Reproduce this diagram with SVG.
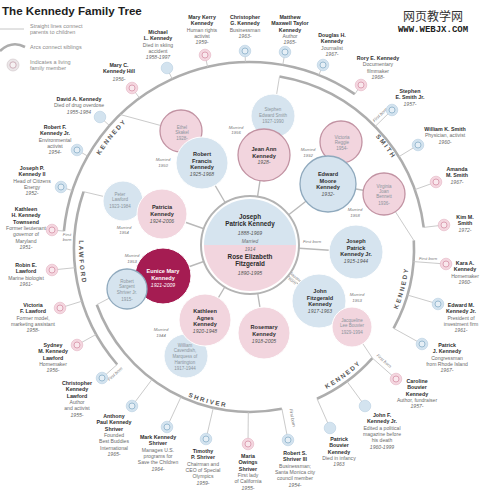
<svg xmlns="http://www.w3.org/2000/svg" width="480" height="496" viewBox="0 0 480 496">
<defs>
<style>
text{font-family:"Liberation Sans",Arial,sans-serif;text-anchor:middle}
.ttl{font-size:11.6px;font-weight:bold;fill:#1e1e1e;text-anchor:start}
.lg{font-size:5.5px;fill:#8a8a8a;text-anchor:start}
.n{font-size:5.3px;font-weight:bold;fill:#2e2e2e}
.d{font-size:5.1px;fill:#6b6b6b}
.y{font-size:5.1px;font-style:italic;fill:#6b6b6b}
.c{font-size:5.6px;font-weight:bold;fill:#2e2e2e}
.cy{font-size:5.1px;font-style:italic;fill:#555}
.m{font-size:6.3px;font-weight:bold;fill:#2a2a2a}
.mr2{font-size:4.8px;font-style:italic;fill:#6f6f6f}
.s{font-size:4.5px;fill:#8a949c}
.mr{font-size:4.3px;font-style:italic;fill:#7a7a7a}
.fb{font-size:4.3px;font-style:italic;fill:#7a7a7a;paint-order:stroke;stroke:#fff;stroke-width:1.2px}
.lbl{font-size:6.3px;font-weight:bold;letter-spacing:1.8px;fill:#555}
.arc{fill:none;stroke:#adadad;stroke-width:2.6}
.ln{stroke:#c4c4c4;stroke-width:0.9;fill:none}
.cl{stroke:#b9b9b9;stroke-width:1.4}
.cb{fill:#d6e4ef;stroke:#fff;stroke-width:1}
.cp{fill:#f2d5de;stroke:#fff;stroke-width:1}
.lb{stroke:#8fa9bd;stroke-width:1.3}
.lp{stroke:#c293a3;stroke-width:1.3}
.wm1{font-family:"Noto Sans CJK SC","Liberation Sans",sans-serif;font-size:12px;fill:#333}
.wm2{font-family:"Liberation Mono",monospace;font-size:9px;font-weight:bold;fill:#222}
</style>
<g id="ib"><circle r="5.8" fill="#d3e3ef" stroke="#b7cee0" stroke-width="0.6"/><circle r="3" fill="#e6eff6" stroke="#93b5cd" stroke-width="0.9"/></g>
<g id="ip"><circle r="5.8" fill="#f4d6df" stroke="#e4b3c2" stroke-width="0.6"/><circle r="3" fill="#f9e8ed" stroke="#d99aae" stroke-width="0.9"/></g>
<g id="ibd"><circle r="5.8" fill="#d3e3ef" stroke="#b7cee0" stroke-width="0.6"/></g>
<g id="ig"><circle r="6" fill="#ebe6e8" stroke="#cfc4c8" stroke-width="0.6"/><circle r="3.2" fill="#f6f2f3" stroke="#c9a9b4" stroke-width="0.9"/></g>
<path id="tp-rfk" d="M79.0 203.2A177 177 0 0 1 169.6 91.3"/>
<path id="tp-smith" d="M334.3 103.1A168.5 168.5 0 0 1 413.5 208.2"/>
<path id="tp-ted" d="M380.7 340.5A159.5 159.5 0 0 0 408.6 232.3"/>
<path id="tp-jfk" d="M291.3 403.1A159.5 159.5 0 0 0 385.3 333.5"/>
<path id="tp-shriver" d="M147.2 371.6A160 160 0 0 0 275.0 407.0"/>
<path id="tp-lawford" d="M89.3 190.5A171 171 0 0 0 100.4 331.9"/>
</defs>
<rect width="480" height="496" fill="#fff"/>

<g id="title"><text class="ttl" x="2" y="14.5">The Kennedy Family Tree</text></g>
<g id="watermark"><text class="wm1" x="433" y="21">网页教学网</text><text class="wm2" x="433" y="32">WWW.WEBJX.COM</text></g>

<g id="legend">
<line x1="0" y1="29" x2="24" y2="29" stroke="#c6c6c6" stroke-width="1"/>
<text class="lg" x="30" y="27.8">Straight lines connect</text>
<text class="lg" x="30" y="33.8">parents to children</text>
<path d="M0 51Q12 40 25 47" class="arc"/>
<text class="lg" x="30" y="48.8">Arcs connect siblings</text>
<use href="#ig" x="13" y="65"/>
<text class="lg" x="30" y="63.8">Indicates a living</text>
<text class="lg" x="30" y="70">family member</text>
</g>

<g id="connectors">
<line class="cl" x1="250" y1="245" x2="202" y2="163"/>
<line class="cl" x1="250" y1="245" x2="264" y2="155"/>
<line class="cl" x1="250" y1="245" x2="328" y2="184"/>
<line class="cl" x1="250" y1="245" x2="356" y2="252"/>
<line class="cl" x1="250" y1="245" x2="319" y2="301"/>
<line class="cl" x1="250" y1="245" x2="264" y2="333"/>
<line class="cl" x1="250" y1="245" x2="205" y2="320"/>
<line class="cl" x1="250" y1="245" x2="163" y2="276"/>
<line class="cl" x1="250" y1="245" x2="162" y2="214"/>
<line class="cl" x1="328" y1="184" x2="384" y2="194"/>
<path class="arc" d="M63.9 231.1A187 187 0 0 1 354.8 94.2"/>
<path class="arc" d="M279.5 76.5A175 175 0 0 1 423.7 227.4"/>
<path class="arc" d="M413.8 240.4A164 164 0 0 1 393.6 328.3"/>
<path class="arc" d="M372.4 358.1A164 164 0 0 1 317.0 398.7"/>
<path class="arc" d="M96.8 304.7A163 163 0 0 0 281.9 408.8"/>
<path class="arc" d="M83.6 191.7A176 176 0 0 0 117.2 364.5"/>
<line class="ln" x1="160.7" y1="125.5" x2="120.1" y2="114.5"/>
<line class="ln" x1="276.6" y1="94.3" x2="279.5" y2="76.5"/>
<line class="ln" x1="395.4" y1="211.7" x2="413.8" y2="240.4"/>
<line class="ln" x1="363" y1="344" x2="372.4" y2="358.1"/>
<line class="ln" x1="109.2" y1="298.2" x2="96.8" y2="304.7"/>
<line class="ln" x1="103.5" y1="196.4" x2="83.6" y2="191.7"/>
<line class="ln" x1="63.9" y1="231.1" x2="52" y2="230"/>
<line class="ln" x1="72.4" y1="190.6" x2="61" y2="187"/>
<line class="ln" x1="87.7" y1="156.1" x2="77" y2="150"/>
<line class="ln" x1="109.5" y1="125.6" x2="100" y2="117"/>
<line class="ln" x1="139.6" y1="98.1" x2="132" y2="88"/>
<line class="ln" x1="172.2" y1="79" x2="167" y2="68"/>
<line class="ln" x1="207.6" y1="66.9" x2="205" y2="55"/>
<line class="ln" x1="245.4" y1="62.1" x2="245" y2="51"/>
<line class="ln" x1="282.8" y1="64.9" x2="285" y2="52"/>
<line class="ln" x1="318.8" y1="75.1" x2="323" y2="65"/>
<line class="ln" x1="354.8" y1="94.2" x2="361" y2="85"/>
<line class="ln" x1="375" y1="126.6" x2="392" y2="110"/>
<line class="ln" x1="398.7" y1="156.8" x2="418" y2="145"/>
<line class="ln" x1="414.7" y1="189.7" x2="436" y2="182"/>
<line class="ln" x1="423.7" y1="227.4" x2="444" y2="225"/>
<line class="ln" x1="413.5" y1="261.6" x2="446" y2="264"/>
<line class="ln" x1="407.4" y1="295" x2="438" y2="304"/>
<line class="ln" x1="393.6" y1="328.3" x2="422" y2="344"/>
<line class="ln" x1="372.4" y1="358.1" x2="396" y2="379"/>
<line class="ln" x1="346.9" y1="381.3" x2="365" y2="406"/>
<line class="ln" x1="317" y1="398.7" x2="330" y2="428"/>
<line class="ln" x1="152.1" y1="379.3" x2="132" y2="406"/>
<line class="ln" x1="181.1" y1="396.7" x2="167" y2="427"/>
<line class="ln" x1="213.3" y1="407.8" x2="206" y2="439"/>
<line class="ln" x1="248.3" y1="412" x2="248" y2="444"/>
<line class="ln" x1="281.9" y1="408.8" x2="288" y2="440"/>
<line class="ln" x1="75" y1="267.7" x2="52" y2="270"/>
<line class="ln" x1="81.9" y1="301.2" x2="60" y2="308"/>
<line class="ln" x1="96.1" y1="334.4" x2="77" y2="345"/>
<line class="ln" x1="117.2" y1="364.5" x2="102" y2="378"/>
<text class="lbl"><textPath href="#tp-rfk" startOffset="50%">KENNEDY</textPath></text>
<text class="lbl"><textPath href="#tp-smith" startOffset="50%">SMITH</textPath></text>
<text class="lbl"><textPath href="#tp-ted" startOffset="50%">KENNEDY</textPath></text>
<text class="lbl"><textPath href="#tp-jfk" startOffset="50%">KENNEDY</textPath></text>
<text class="lbl"><textPath href="#tp-shriver" startOffset="50%">SHRIVER</textPath></text>
<text class="lbl"><textPath href="#tp-lawford" startOffset="50%">LAWFORD</textPath></text>
<text class="fb" x="67" y="235.8"><tspan x="67">First</tspan><tspan x="67" dy="4.8">born</tspan></text>
<text class="fb" transform="translate(381,116) rotate(-44)">First born</text>
<text class="fb" x="428" y="260">First born</text>
<text class="fb" transform="translate(383,362) rotate(41.5)">First born</text>
<text class="fb" transform="translate(291,418) rotate(80)">First born</text>
<text class="fb" transform="translate(116,375) rotate(-42)">First born</text>
<text class="fb" x="312" y="242.5">First born</text>
<text class="fb" transform="translate(294,279) rotate(39)"><tspan x="0" y="-1">Second</tspan><tspan x="0" y="3.8">born</tspan></text>
</g>

<g id="p-joseph-rose">
<circle cx="250" cy="245" r="49" fill="#fff" stroke="#b3b3b3" stroke-width="2"/>
<path d="M204 245A46 46 0 0 1 296 245Z" fill="#d6e4ef"/>
<path d="M204 245A46 46 0 0 0 296 245Z" fill="#f2d5de"/>
<text x="250" y="219"><tspan class="m">Joseph</tspan><tspan class="m" x="250" dy="7">Patrick Kennedy</tspan><tspan class="cy" x="250" dy="9">1888-1969</tspan><tspan class="mr2" x="250" dy="7.5">Married</tspan><tspan class="mr2" x="250" dy="8">1914</tspan><tspan class="m" x="250" dy="8.5">Rose Elizabeth</tspan><tspan class="m" x="250" dy="7">Fitzgerald</tspan><tspan class="cy" x="250" dy="9">1890-1995</tspan></text>
</g>

<g id="p-ethel"><circle class="cp lp" cx="181" cy="131" r="21"/><text class="s" x="182" y="128.6"><tspan x="182">Ethel</tspan><tspan x="182" dy="5.8">Skakel</tspan><tspan x="182" dy="5.8">1928-</tspan></text></g>
<g id="p-robert"><circle class="cb" cx="202" cy="163" r="26"/><text x="202" y="156"><tspan class="c">Robert</tspan><tspan class="c" x="202" dy="6.5">Francis</tspan><tspan class="c" x="202" dy="6.5">Kennedy</tspan><tspan class="cy" x="202" dy="7">1925-1968</tspan></text><text class="mr" x="163" y="160.5"><tspan x="163">Married</tspan><tspan x="163" dy="6">1950</tspan></text></g>

<g id="p-stephen-smith"><circle class="cb" cx="273" cy="116" r="22"/><text class="s" x="273" y="110.6"><tspan x="273">Stephen</tspan><tspan x="273" dy="6">Edward Smith</tspan><tspan x="273" dy="6">1927-1990</tspan></text></g>
<g id="p-jean"><circle class="cp lp" cx="264" cy="155" r="26"/><text x="264" y="151"><tspan class="c">Jean Ann</tspan><tspan class="c" x="264" dy="6.5">Kennedy</tspan><tspan class="cy" x="264" dy="6.5">1928-</tspan></text><text class="mr" x="236" y="128.5"><tspan x="236">Married</tspan><tspan x="236" dy="5.5">1956</tspan></text></g>

<g id="p-victoria-reggie"><circle class="cp lp" cx="341" cy="142" r="21"/><text class="s" x="342" y="138.6"><tspan x="342">Victoria</tspan><tspan x="342" dy="5.6">Reggie</tspan><tspan x="342" dy="6">1954-</tspan></text></g>
<g id="p-virginia"><circle class="cp lp" cx="384" cy="194" r="21"/><text class="s" x="384" y="187.6"><tspan x="384">Virginia</tspan><tspan x="384" dy="5.4">Joan</tspan><tspan x="384" dy="5.4">Bennett</tspan><tspan x="384" dy="6.2">1936-</tspan></text><text class="mr" x="355" y="211"><tspan x="355">Married</tspan><tspan x="355" dy="5.5">1958</tspan></text></g>
<g id="p-edward"><circle class="cb lb" cx="328" cy="184" r="28"/><text x="328" y="176"><tspan class="c">Edward</tspan><tspan class="c" x="328" dy="6.5">Moore</tspan><tspan class="c" x="328" dy="6.5">Kennedy</tspan><tspan class="cy" x="328" dy="7">1932-</tspan></text><text class="mr" x="308" y="150.5"><tspan x="308">Married</tspan><tspan x="308" dy="6">1992</tspan></text></g>

<g id="p-joseph-jr"><circle class="cb" cx="356" cy="252" r="27"/><text x="356" y="243"><tspan class="c">Joseph</tspan><tspan class="c" x="356" dy="6.5">Patrick</tspan><tspan class="c" x="356" dy="6.5">Kennedy Jr.</tspan><tspan class="cy" x="356" dy="7">1915-1944</tspan></text></g>

<g id="p-jfk"><circle class="cb" cx="319" cy="301" r="27"/><text x="320" y="293"><tspan class="c">John</tspan><tspan class="c" x="320" dy="6.5">Fitzgerald</tspan><tspan class="c" x="320" dy="6.5">Kennedy</tspan><tspan class="cy" x="320" dy="7">1917-1963</tspan></text><text class="mr" x="357" y="295.5"><tspan x="357">Married</tspan><tspan x="357" dy="6">1953</tspan></text></g>
<g id="p-jacqueline"><circle class="cp" cx="352" cy="327" r="20"/><text class="s" x="352" y="321.6"><tspan x="352">Jacqueline</tspan><tspan x="352" dy="5.8">Lee Bouvier</tspan><tspan x="352" dy="6.6">1929-1994</tspan></text></g>

<g id="p-rosemary"><circle class="cp" cx="264" cy="333" r="26"/><text x="264" y="329"><tspan class="c">Rosemary</tspan><tspan class="c" x="264" dy="6.5">Kennedy</tspan><tspan class="cy" x="264" dy="7">1918-2005</tspan></text></g>

<g id="p-william-cavendish"><circle class="cb" cx="186" cy="356" r="22"/><text class="s" x="185" y="346.6"><tspan x="185">William</tspan><tspan x="185" dy="5.8">Cavendish,</tspan><tspan x="185" dy="5.8">Marquess of</tspan><tspan x="185" dy="5.8">Hartington</tspan><tspan x="185" dy="5.8">1917-1944</tspan></text></g>
<g id="p-kathleen"><circle class="cp" cx="205" cy="320" r="26"/><text x="205" y="313"><tspan class="c">Kathleen</tspan><tspan class="c" x="205" dy="6.5">Agnes</tspan><tspan class="c" x="205" dy="6.5">Kennedy</tspan><tspan class="cy" x="205" dy="6.5">1920-1948</tspan></text><text class="mr" x="161" y="330.5"><tspan x="161">Married</tspan><tspan x="161" dy="6">1944</tspan></text></g>

<g id="p-eunice"><circle cx="163" cy="276" r="28" fill="#a51c52" stroke="#fff" stroke-width="1"/><text x="163" y="273"><tspan class="c" fill="#fff" style="fill:#fff">Eunice Mary</tspan><tspan class="c" x="163" dy="6.5" style="fill:#fff">Kennedy</tspan><tspan class="cy" x="163" dy="7" style="fill:#fff">1921-2009</tspan></text><text class="mr" x="132" y="256.5"><tspan x="132">Married</tspan><tspan x="132" dy="6">1953</tspan></text></g>
<g id="p-sargent-shriver"><circle class="cb lb" cx="127" cy="289" r="20"/><text class="s" x="127" y="282.6"><tspan x="127">Robert</tspan><tspan x="127" dy="5.8">Sargent</tspan><tspan x="127" dy="5.8">Shriver Jr.</tspan><tspan x="127" dy="6.4">1915-</tspan></text></g>

<g id="p-peter-lawford"><circle class="cb" cx="123" cy="201" r="20"/><text class="s" x="120" y="195.6"><tspan x="120">Peter</tspan><tspan x="120" dy="5.8">Lawford</tspan><tspan x="120" dy="6.2">1923-1984</tspan></text></g>
<g id="p-patricia"><circle class="cp" cx="162" cy="214" r="25"/><text x="162" y="209"><tspan class="c">Patricia</tspan><tspan class="c" x="162" dy="6.5">Kennedy</tspan><tspan class="cy" x="162" dy="7">1924-2006</tspan></text><text class="mr" x="124" y="228.5"><tspan x="124">Married</tspan><tspan x="124" dy="5.5">1954</tspan></text></g>

<g id="p-kathleen-townsend"><use href="#ip" x="52" y="230"/><text x="26" y="211"><tspan class="n" x="26">Kathleen</tspan><tspan class="n" x="26" dy="6.3">H. Kennedy</tspan><tspan class="n" x="26" dy="6.3">Townsend</tspan><tspan class="d" x="26" dy="6.3">Former lieutenant</tspan><tspan class="d" x="26" dy="6.3">governor of</tspan><tspan class="d" x="26" dy="6.3">Maryland</tspan><tspan class="y" x="26" dy="6.3">1951-</tspan></text></g>
<g id="p-joseph-ii"><use href="#ib" x="61" y="187"/><text x="32" y="170"><tspan class="n" x="32">Joseph P.</tspan><tspan class="n" x="32" dy="6.3">Kennedy II</tspan><tspan class="d" x="32" dy="6.3">Head of Citizens</tspan><tspan class="d" x="32" dy="6.3">Energy</tspan><tspan class="y" x="32" dy="6.3">1952-</tspan></text></g>
<g id="p-robert-jr"><use href="#ib" x="77" y="150"/><text x="55" y="129"><tspan class="n" x="55">Robert F.</tspan><tspan class="n" x="55" dy="6.3">Kennedy Jr.</tspan><tspan class="d" x="55" dy="6.3">Environmental</tspan><tspan class="d" x="55" dy="6.3">activist</tspan><tspan class="y" x="55" dy="6.3">1954-</tspan></text></g>
<g id="p-david"><use href="#ibd" x="100" y="117"/><text x="79" y="101"><tspan class="n" x="79">David A. Kennedy</tspan><tspan class="d" x="79" dy="6.3">Died of drug overdose</tspan><tspan class="y" x="79" dy="6.3">1955-1984</tspan></text></g>
<g id="p-mary-courtney"><use href="#ip" x="132" y="88"/><text x="119" y="67"><tspan class="n" x="119">Mary C.</tspan><tspan class="n" x="119" dy="6.3">Kennedy Hill</tspan><tspan class="y" x="119" dy="7.5">1956-</tspan></text></g>
<g id="p-michael"><use href="#ibd" x="167" y="68"/><text x="158" y="34"><tspan class="n" x="158">Michael</tspan><tspan class="n" x="158" dy="6.3">L. Kennedy</tspan><tspan class="d" x="158" dy="6.3">Died in skiing</tspan><tspan class="d" x="158" dy="6.3">accident</tspan><tspan class="y" x="158" dy="6.3">1958-1997</tspan></text></g>
<g id="p-mary-kerry"><use href="#ip" x="205" y="55"/><text x="202" y="19"><tspan class="n" x="202">Mary Kerry</tspan><tspan class="n" x="202" dy="6.3">Kennedy</tspan><tspan class="d" x="202" dy="6.3">Human rights</tspan><tspan class="d" x="202" dy="6.3">activist</tspan><tspan class="y" x="202" dy="6.3">1959-</tspan></text></g>
<g id="p-christopher-g"><use href="#ib" x="245" y="51"/><text x="245" y="19"><tspan class="n" x="245">Christopher</tspan><tspan class="n" x="245" dy="6.3">G. Kennedy</tspan><tspan class="d" x="245" dy="6.3">Businessman</tspan><tspan class="y" x="245" dy="6.3">1963-</tspan></text></g>
<g id="p-matthew"><use href="#ib" x="285" y="52"/><text x="290" y="19"><tspan class="n" x="290">Matthew</tspan><tspan class="n" x="290" dy="6.3">Maxwell Taylor</tspan><tspan class="n" x="290" dy="6.3">Kennedy</tspan><tspan class="d" x="290" dy="6.3">Author</tspan><tspan class="y" x="290" dy="6.3">1965-</tspan></text></g>
<g id="p-douglas"><use href="#ib" x="323" y="65"/><text x="332" y="37"><tspan class="n" x="332">Douglas H.</tspan><tspan class="n" x="332" dy="6.3">Kennedy</tspan><tspan class="d" x="332" dy="6.3">Journalist</tspan><tspan class="y" x="332" dy="6.3">1967-</tspan></text></g>
<g id="p-rory"><use href="#ip" x="361" y="85"/><text x="378" y="60"><tspan class="n" x="378">Rory E. Kennedy</tspan><tspan class="d" x="378" dy="6.3">Documentary</tspan><tspan class="d" x="378" dy="6.3">filmmaker</tspan><tspan class="y" x="378" dy="6.3">1968-</tspan></text></g>

<g id="p-stephen-jr"><use href="#ib" x="392" y="110"/><text x="410" y="93"><tspan class="n" x="410">Stephen</tspan><tspan class="n" x="410" dy="6.3">E. Smith Jr.</tspan><tspan class="y" x="410" dy="6.3">1957-</tspan></text></g>
<g id="p-william-smith"><use href="#ib" x="418" y="145"/><text x="445" y="131"><tspan class="n" x="445">William K. Smith</tspan><tspan class="d" x="445" dy="6.3">Physician, activist</tspan><tspan class="y" x="445" dy="6.3">1960-</tspan></text></g>
<g id="p-amanda"><use href="#ip" x="436" y="182"/><text x="457" y="171"><tspan class="n" x="457">Amanda</tspan><tspan class="n" x="457" dy="6.3">M. Smith</tspan><tspan class="y" x="457" dy="6.3">1967-</tspan></text></g>
<g id="p-kim"><use href="#ip" x="444" y="225"/><text x="465" y="219"><tspan class="n" x="465">Kim M.</tspan><tspan class="n" x="465" dy="6.3">Smith</tspan><tspan class="y" x="465" dy="7">1972-</tspan></text></g>

<g id="p-kara"><use href="#ip" x="446" y="264"/><text x="465" y="265"><tspan class="n" x="465">Kara A.</tspan><tspan class="n" x="465" dy="6.3">Kennedy</tspan><tspan class="d" x="465" dy="6.3">Homemaker</tspan><tspan class="y" x="465" dy="6.3">1960-</tspan></text></g>
<g id="p-edward-jr"><use href="#ib" x="438" y="304"/><text x="461" y="307"><tspan class="n" x="461">Edward M.</tspan><tspan class="n" x="461" dy="6.3">Kennedy Jr.</tspan><tspan class="d" x="461" dy="6.3">President of</tspan><tspan class="d" x="461" dy="6.3">investment firm</tspan><tspan class="y" x="461" dy="6.3">1961-</tspan></text></g>
<g id="p-patrick-j"><use href="#ib" x="422" y="344"/><text x="447" y="347"><tspan class="n" x="447">Patrick</tspan><tspan class="n" x="447" dy="6.3">J. Kennedy</tspan><tspan class="d" x="447" dy="6.3">Congressman</tspan><tspan class="d" x="447" dy="6.3">from Rhode Island</tspan><tspan class="y" x="447" dy="6.3">1967-</tspan></text></g>

<g id="p-caroline"><use href="#ip" x="396" y="379"/><text x="417" y="383"><tspan class="n" x="417">Caroline</tspan><tspan class="n" x="417" dy="6.3">Bouvier</tspan><tspan class="n" x="417" dy="6.3">Kennedy</tspan><tspan class="d" x="417" dy="6.3">Author, fundraiser</tspan><tspan class="y" x="417" dy="6.3">1957-</tspan></text></g>
<g id="p-john-jr"><use href="#ibd" x="365" y="406"/><text x="382" y="417"><tspan class="n" x="382">John F.</tspan><tspan class="n" x="382" dy="6.3">Kennedy Jr.</tspan><tspan class="d" x="382" dy="6.3">Edited a political</tspan><tspan class="d" x="382" dy="6.3">magazine before</tspan><tspan class="d" x="382" dy="6.3">his death</tspan><tspan class="y" x="382" dy="6.3">1960-1999</tspan></text></g>
<g id="p-patrick-b"><use href="#ibd" x="330" y="428"/><text x="339" y="441"><tspan class="n" x="339">Patrick</tspan><tspan class="n" x="339" dy="6.3">Bouvier</tspan><tspan class="n" x="339" dy="6.3">Kennedy</tspan><tspan class="d" x="339" dy="6.3">Died in infancy</tspan><tspan class="y" x="339" dy="6.3">1963</tspan></text></g>

<g id="p-robert-iii"><use href="#ib" x="288" y="440"/><text x="295" y="455"><tspan class="n" x="295">Robert S.</tspan><tspan class="n" x="295" dy="6.3">Shriver III</tspan><tspan class="d" x="295" dy="6.3">Businessman;</tspan><tspan class="d" x="295" dy="6.3">Santa Monica city</tspan><tspan class="d" x="295" dy="6.3">council member</tspan><tspan class="y" x="295" dy="6.3">1954-</tspan></text></g>
<g id="p-maria"><use href="#ip" x="248" y="444"/><text x="248" y="458"><tspan class="n" x="248">Maria</tspan><tspan class="n" x="248" dy="6.3">Owings</tspan><tspan class="n" x="248" dy="6.3">Shriver</tspan><tspan class="d" x="248" dy="6.3">First lady</tspan><tspan class="d" x="248" dy="6.3">of California</tspan><tspan class="y" x="248" dy="6.3">1955-</tspan></text></g>
<g id="p-timothy"><use href="#ib" x="206" y="439"/><text x="203" y="453"><tspan class="n" x="203">Timothy</tspan><tspan class="n" x="203" dy="6.3">P. Shriver</tspan><tspan class="d" x="203" dy="6.3">Chairman and</tspan><tspan class="d" x="203" dy="6.3">CEO of Special</tspan><tspan class="d" x="203" dy="6.3">Olympics</tspan><tspan class="y" x="203" dy="6.3">1959-</tspan></text></g>
<g id="p-mark"><use href="#ib" x="167" y="427"/><text x="158" y="439"><tspan class="n" x="158">Mark Kennedy</tspan><tspan class="n" x="158" dy="6.3">Shriver</tspan><tspan class="d" x="158" dy="6.3">Manages U.S.</tspan><tspan class="d" x="158" dy="6.3">programs for</tspan><tspan class="d" x="158" dy="6.3">Save the Children</tspan><tspan class="y" x="158" dy="6.3">1964-</tspan></text></g>
<g id="p-anthony"><use href="#ib" x="132" y="406"/><text x="114" y="418"><tspan class="n" x="114">Anthony</tspan><tspan class="n" x="114" dy="6.3">Paul Kennedy</tspan><tspan class="n" x="114" dy="6.3">Shriver</tspan><tspan class="d" x="114" dy="6.3">Founded</tspan><tspan class="d" x="114" dy="6.3">Best Buddies</tspan><tspan class="d" x="114" dy="6.3">International</tspan><tspan class="y" x="114" dy="6.3">1965-</tspan></text></g>

<g id="p-christopher-l"><use href="#ib" x="102" y="378"/><text x="77" y="385"><tspan class="n" x="77">Christopher</tspan><tspan class="n" x="77" dy="6.3">Kennedy</tspan><tspan class="n" x="77" dy="6.3">Lawford</tspan><tspan class="d" x="77" dy="6.3">Author</tspan><tspan class="d" x="77" dy="6.3">and activist</tspan><tspan class="y" x="77" dy="6.3">1955-</tspan></text></g>
<g id="p-sydney"><use href="#ip" x="77" y="345"/><text x="53" y="347"><tspan class="n" x="53">Sydney</tspan><tspan class="n" x="53" dy="6.3">M. Kennedy</tspan><tspan class="n" x="53" dy="6.3">Lawford</tspan><tspan class="d" x="53" dy="6.3">Homemaker</tspan><tspan class="y" x="53" dy="6.3">1956-</tspan></text></g>
<g id="p-victoria-l"><use href="#ip" x="60" y="308"/><text x="33" y="307"><tspan class="n" x="33">Victoria</tspan><tspan class="n" x="33" dy="6.3">F. Lawford</tspan><tspan class="d" x="33" dy="6.3">Former model,</tspan><tspan class="d" x="33" dy="6.3">marketing assistant</tspan><tspan class="y" x="33" dy="6.3">1958-</tspan></text></g>
<g id="p-robin"><use href="#ip" x="52" y="270"/><text x="26" y="267"><tspan class="n" x="26">Robin E.</tspan><tspan class="n" x="26" dy="6.3">Lawford</tspan><tspan class="d" x="26" dy="6.3">Marine biologist</tspan><tspan class="y" x="26" dy="6.3">1961-</tspan></text></g>
</svg>
